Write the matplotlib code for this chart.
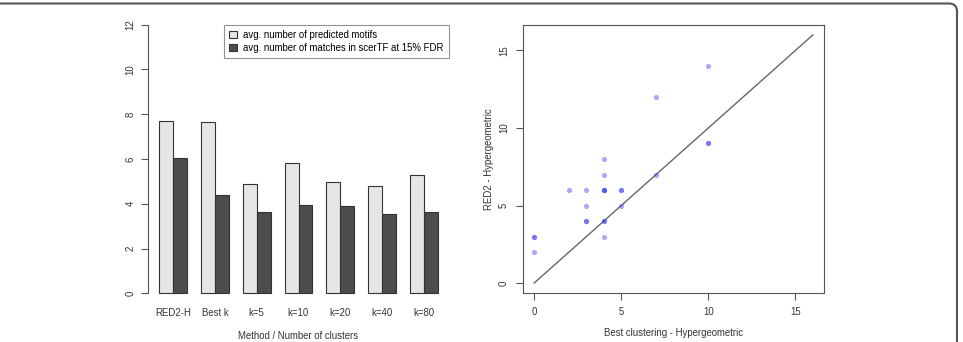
import numpy as np
import matplotlib
matplotlib.use("Agg")
import matplotlib.pyplot as plt
from matplotlib.patches import FancyBboxPatch

plt.rcParams['font.family'] = ['Liberation Sans', 'DejaVu Sans']

# bar chart data
methods = ["RED2-H", "Best k", "k=5", "k=10", "k=20", "k=40", "k=80"]
predicted = [7.7, 7.65, 4.9, 5.8, 4.95, 4.8, 5.3]
matches = [6.05, 4.4, 3.65, 3.95, 3.9, 3.55, 3.65]

# scatter data (repeated pairs overlap)
best_x = [0, 0, 0, 2, 3, 3, 3, 3, 4, 4, 4, 4, 4, 4, 4, 4, 5, 5, 5, 7, 7, 10, 10, 10]
red2_y = [3, 3, 2, 6, 6, 5, 4, 4, 8, 7, 6, 6, 6, 4, 4, 3, 6, 6, 5, 12, 7, 14, 9, 9]

axcol = "#555555"
txtcol = "#333333"
fs = 6.9

fig = plt.figure(figsize=(9.63, 3.42), dpi=100)

# ---- left: grouped bars ----
ax1 = fig.add_axes([148 / 963, (342 - 304) / 342, 301 / 963, 290 / 342])
starts = 1 + 3 * np.arange(len(methods))
ax1.bar(starts, predicted, width=1, align='edge', color="#e6e6e6",
        edgecolor="#333333", linewidth=0.8, label="avg. number of predicted motifs")
ax1.bar(starts + 1, matches, width=1, align='edge', color="#4d4d4d",
        edgecolor="#333333", linewidth=0.8,
        label="avg. number of matches in scerTF at 15% FDR")
ax1.set_xlim(0.2, 21.8)
ax1.set_ylim(-0.48, 12.48)
for s in ['top', 'right', 'bottom']:
    ax1.spines[s].set_visible(False)
ax1.spines['left'].set_bounds(0, 12)
ax1.spines['left'].set_color(axcol)
ax1.set_yticks(range(0, 13, 2))
ax1.tick_params(axis='y', length=5, color=axcol, labelsize=fs, labelcolor=txtcol, pad=4)
for lbl in ax1.get_yticklabels():
    lbl.set_rotation(90)
    lbl.set_va('center')
ax1.set_xticks(starts + 1)
ax1.set_xticklabels(methods)
ax1.tick_params(axis='x', length=0, labelsize=fs, labelcolor=txtcol, pad=3)
ax1.set_xlabel("Method / Number of clusters", fontsize=fs, color=txtcol, labelpad=9)
leg = ax1.legend(loc='upper right', bbox_to_anchor=(21.8, 12.0),
                 bbox_transform=ax1.transData, fontsize=fs,
                 frameon=True, fancybox=False, edgecolor="#777777",
                 handlelength=0.8, handleheight=0.8, handletextpad=0.7,
                 borderpad=0.55, labelspacing=0.3, borderaxespad=0)
leg.get_frame().set_linewidth(0.8)

# ---- right: scatter ----
ax2 = fig.add_axes([523 / 963, (342 - 293) / 342, 301 / 963, 268 / 342])
ax2.plot([0, 16], [0, 16], color="#666666", linewidth=1)
ax2.scatter(best_x, red2_y, s=14, color="#2a2aee", alpha=0.4, linewidths=0, zorder=3)
ax2.set_xlim(-0.64, 16.64)
ax2.set_ylim(-0.64, 16.64)
for s in ax2.spines.values():
    s.set_color(axcol)
ax2.set_xticks([0, 5, 10, 15])
ax2.set_yticks([0, 5, 10, 15])
ax2.tick_params(length=5, color=axcol, labelsize=fs, labelcolor=txtcol, pad=5)
for lbl in ax2.get_yticklabels():
    lbl.set_rotation(90)
    lbl.set_va('center')
ax2.set_xlabel("Best clustering - Hypergeometric", fontsize=fs, color=txtcol, labelpad=8)
ax2.set_ylabel("RED2 - Hypergeometric", fontsize=fs, color=txtcol, labelpad=4)

# outer rounded frame (cut off at left and bottom)
frame = FancyBboxPatch((-0.3, -0.3), 9.87, 3.685,
                       boxstyle="round,pad=0,rounding_size=0.08",
                       transform=fig.dpi_scale_trans, fill=False,
                       edgecolor="#555555", linewidth=1.5)
fig.patches.append(frame)

fig.savefig("out.png", dpi=100)
